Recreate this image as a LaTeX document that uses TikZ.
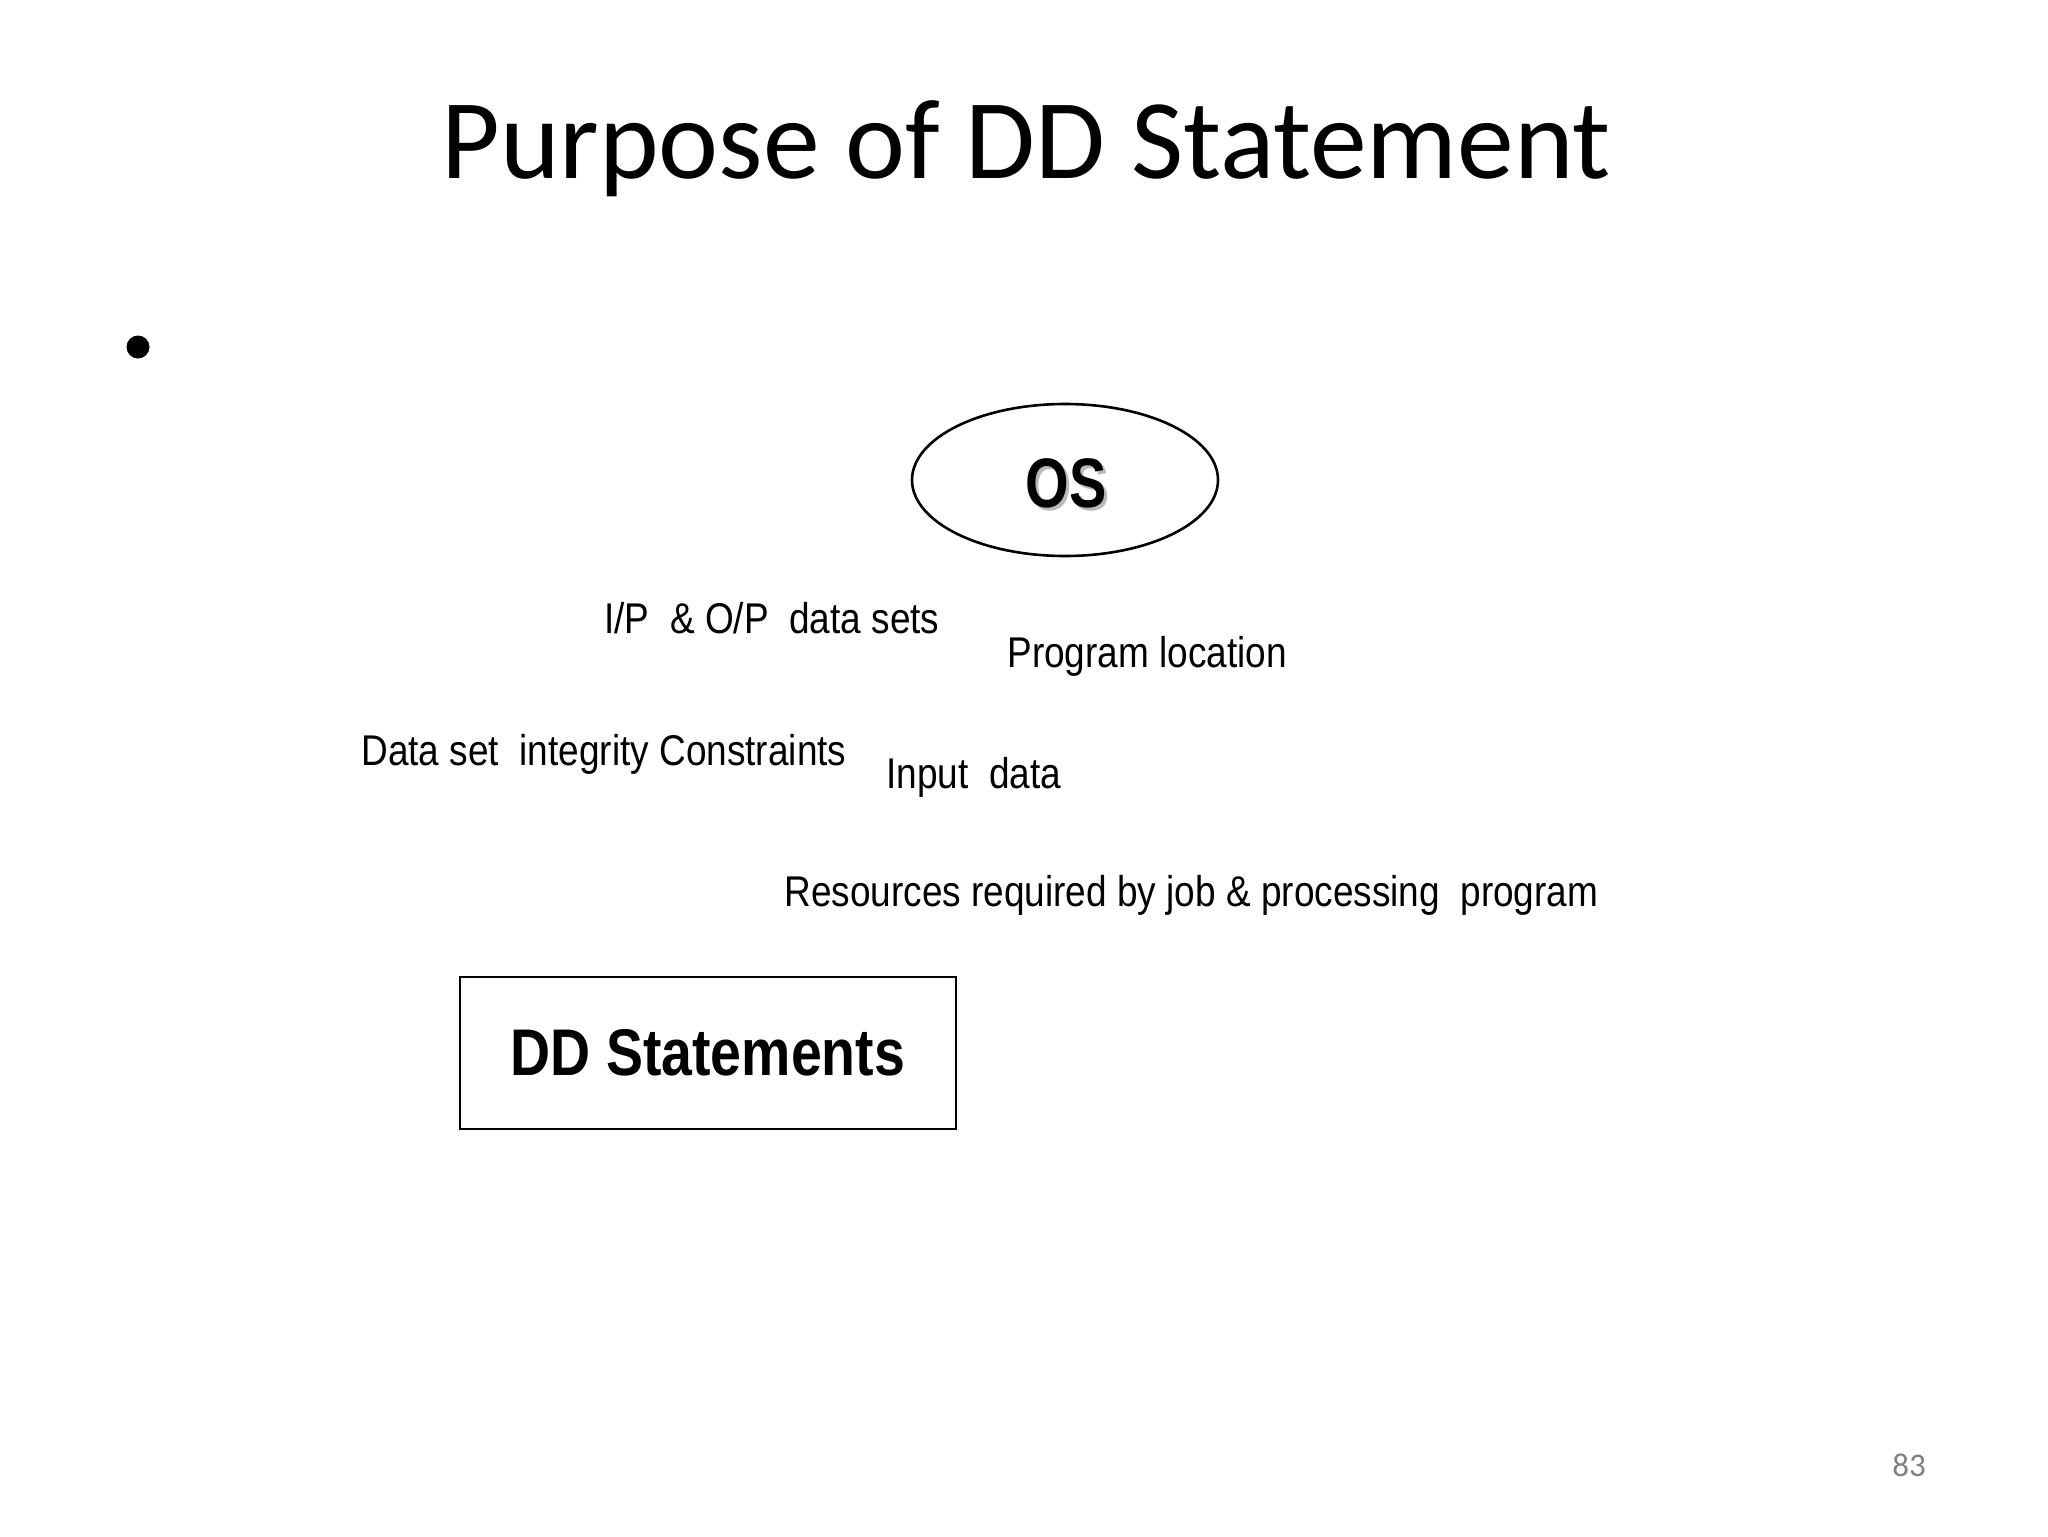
\documentclass[tikz,border=0pt]{standalone}
\usepackage{xcolor}
\usepackage{fontspec}
\setmainfont{Carlito}
\newfontfamily\narrowfont[FakeStretch=0.86]{Liberation Sans}
\newfontfamily\narrowboldfont[FakeStretch=0.84]{Liberation Sans Bold}
\newfontfamily\osfont[FakeStretch=0.80]{Liberation Sans Bold}
\usepackage{tikz}
\usetikzlibrary{shapes,positioning}
\definecolor{pagegray}{RGB}{128,128,128}
\definecolor{shadowgray}{RGB}{185,185,185}

\tikzset{
  label/.style={anchor=base west, inner sep=0pt, font=\narrowfont\fontsize{21.5pt}{24pt}\selectfont},
  box/.style={draw, line width=1.4pt, rectangle, inner sep=0pt},
}

\begin{document}
\begin{tikzpicture}[x=0.5pt,y=0.5pt,yscale=-1,xscale=1]
  \useasboundingbox (0,0) rectangle (2048,1536); %slide size

    % Title
    \node (title) at (1026,178) [anchor=base, inner sep=0pt] {\fontsize{56.8pt}{60pt}\selectfont Purpose of DD Statement};

    % empty bullet
    \node (dot) at (138,347) [circle, fill, inner sep=0pt, minimum size=11.5pt] {};

    %Shape: Ellipse
    \node (os) at (1065,480) [draw, ellipse, line width=1.3pt, inner sep=0pt, minimum width=153pt, minimum height=76pt] {};
    \node (osshadow) at (1069,486) [text=shadowgray, inner sep=0pt, font=\osfont\fontsize{35pt}{38pt}\selectfont] {OS};
    \node (ostext) at (1066,483) [inner sep=0pt, font=\osfont\fontsize{35pt}{38pt}\selectfont] {OS};

    % Text Node
    \node (iop) at (604,633) [label] {I/P~ \& O/P~ data sets};
    \node (prog) at (1007,667) [label] {Program location};
    % Text Node
    \node (integ) at (361,765) [label] {Data set~ integrity Constraints};
    \node (input) at (886,788) [label] {Input~ data};
    % Text Node
    \node (res) at (784,906) [label] {Resources required by job \& processing~ program};

    %Shape: Rectangle
    \node (dd) at (708,1053) [box, minimum width=248pt, minimum height=76pt, font=\narrowboldfont\fontsize{33pt}{36pt}\selectfont] {DD Statements};

    % page number
    \node (page) at (1892,1476) [anchor=base west, inner sep=0pt, text=pagegray] {\fontsize{16.5pt}{18pt}\selectfont 83};

  \end{tikzpicture}
\end{document}
